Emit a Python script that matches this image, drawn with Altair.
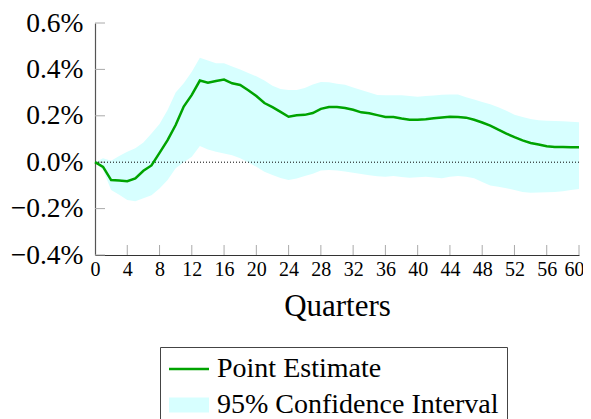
import altair as alt
import pandas as pd

quarters = list(range(61))
point_estimate = [0.0, -0.02, -0.077, -0.079, -0.082, -0.07, -0.037, -0.014, 0.04, 0.095,
                  0.16, 0.24, 0.29, 0.352, 0.343, 0.35, 0.356, 0.34, 0.333, 0.31,
                  0.285, 0.255, 0.237, 0.217, 0.196, 0.202, 0.204, 0.212, 0.23, 0.238,
                  0.238, 0.234, 0.226, 0.215, 0.211, 0.203, 0.195, 0.195, 0.188, 0.183,
                  0.183, 0.185, 0.189, 0.193, 0.196, 0.195, 0.192, 0.183, 0.171, 0.158,
                  0.14, 0.123, 0.108, 0.094, 0.083, 0.076, 0.069, 0.066, 0.065, 0.064, 0.064]
ci_upper = [0.0, 0.017, 0.006, 0.027, 0.045, 0.06, 0.085, 0.124, 0.165, 0.225,
            0.3, 0.34, 0.39, 0.45, 0.438, 0.426, 0.426, 0.413, 0.4, 0.385,
            0.37, 0.352, 0.33, 0.315, 0.311, 0.311, 0.32, 0.335, 0.346, 0.345,
            0.338, 0.334, 0.322, 0.311, 0.3, 0.29, 0.289, 0.289, 0.289, 0.285,
            0.282, 0.285, 0.288, 0.291, 0.292, 0.292, 0.28, 0.27, 0.26, 0.25,
            0.237, 0.222, 0.205, 0.195, 0.186, 0.181, 0.179, 0.178, 0.176, 0.174, 0.172]
ci_lower = [0.0, -0.034, -0.12, -0.14, -0.163, -0.168, -0.155, -0.142, -0.113, -0.077,
            -0.026, 0.0, 0.024, 0.07, 0.055, 0.045, 0.038, 0.03, 0.017, 0.0,
            -0.02, -0.041, -0.055, -0.068, -0.077, -0.07, -0.06, -0.05, -0.036, -0.034,
            -0.036, -0.04, -0.046, -0.051, -0.056, -0.061, -0.063, -0.06, -0.064, -0.067,
            -0.065, -0.063, -0.066, -0.069, -0.063, -0.06, -0.063, -0.069, -0.085, -0.1,
            -0.106, -0.112, -0.12, -0.128, -0.132, -0.131, -0.13, -0.128, -0.125, -0.12, -0.116]
y_ticks = [-0.4, -0.2, 0.0, 0.2, 0.4, 0.6]
x_ticks = list(range(0, 61, 4))
series_names = ["Point Estimate", "95% Confidence Interval"]

df = pd.DataFrame({"q": quarters, "pe": point_estimate, "lo": ci_lower, "hi": ci_upper})
df["pe_label"] = series_names[0]
df["ci_label"] = series_names[1]

GREEN = "#00a300"
CYAN = "#d7ffff"
FONT = "Liberation Serif"

xscale = alt.Scale(domain=[0, 60], nice=False, zero=False)
yscale = alt.Scale(domain=[-0.4, 0.6], nice=False, zero=False)
color_scale = alt.Scale(domain=series_names, range=[GREEN, CYAN])

legend = alt.Legend(
    title=None, orient="none", legendX=65, legendY=324, direction="vertical",
    symbolType="M-4,0H4", symbolSize=100, symbolOffset=7,
    symbolStrokeWidth={"expr": "datum.value == 'Point Estimate' ? 2.5 : 15"},
    symbolStrokeColor={"expr": "datum.value == 'Point Estimate' ? '%s' : '%s'" % (GREEN, CYAN)},
    symbolFillColor="transparent", symbolOpacity=1,
    labelFont=FONT, labelFontSize=28, labelColor="black", labelLimit=500,
    labelOffset=14, rowPadding=-8, padding=8,
    strokeColor="#444", fillColor="white",
)

x_axis = alt.Axis(values=x_ticks, ticks=False, grid=False, domainColor="#333", domainWidth=1.2,
                  labelFont=FONT, labelFontSize=20, labelColor="black", labelPadding=4,
                  labelFlush=False, labelOverlap=False, labelBound=False,
                  labelOffset={"expr": "datum.value == 60 ? -5 : 0"},
                  title="Quarters", titleFont=FONT, titleFontSize=31, titleFontWeight="normal",
                  titleColor="black", titlePadding=12)
y_axis = alt.Axis(values=y_ticks, ticks=False, grid=False, domainColor="#555", domainWidth=1.2,
                  labelFont=FONT, labelFontSize=27.5, labelColor="black", labelPadding=12,
                  labelFlush=False, labelOverlap=False,
                  labelExpr="format(datum.value, '.1f') + '%'", title=None)

base = alt.Chart(df)

band = base.mark_area(opacity=1).encode(
    x=alt.X("q:Q", scale=xscale, axis=x_axis),
    y=alt.Y("lo:Q", scale=yscale, axis=y_axis),
    y2="hi:Q",
    color=alt.Color("ci_label:N", scale=color_scale, legend=legend),
)

zero = alt.Chart(pd.DataFrame({"v": [0.0]})).mark_rule(color="black", strokeDash=[1, 2], strokeWidth=1).encode(
    y=alt.Y("v:Q", scale=yscale, axis=y_axis)
)

line = base.mark_line(strokeWidth=2.5).encode(
    x=alt.X("q:Q", scale=xscale, axis=x_axis),
    y=alt.Y("pe:Q", scale=yscale, axis=y_axis),
    color=alt.Color("pe_label:N", scale=color_scale, legend=legend),
)

yt = alt.Chart(pd.DataFrame({"v": y_ticks})).mark_rule(color="#aaa", strokeWidth=1).encode(
    y=alt.Y("v:Q", scale=yscale, axis=y_axis), x=alt.value(0), x2=alt.value(10)
)
xt = alt.Chart(pd.DataFrame({"v": x_ticks[1:]})).mark_rule(color="#aaa", strokeWidth=1).encode(
    x=alt.X("v:Q", scale=xscale, axis=x_axis), y=alt.value(232), y2=alt.value(222)
)

chart = alt.layer(band, yt, xt, zero, line).properties(
    width=484, height=232,
    autosize=alt.AutoSizeParams(type="none"),
    padding={"left": 87, "top": 15, "right": 4, "bottom": 170},
).configure_view(stroke=None)

chart.save("out.html", embed_options={"renderer": "svg", "actions": False})
